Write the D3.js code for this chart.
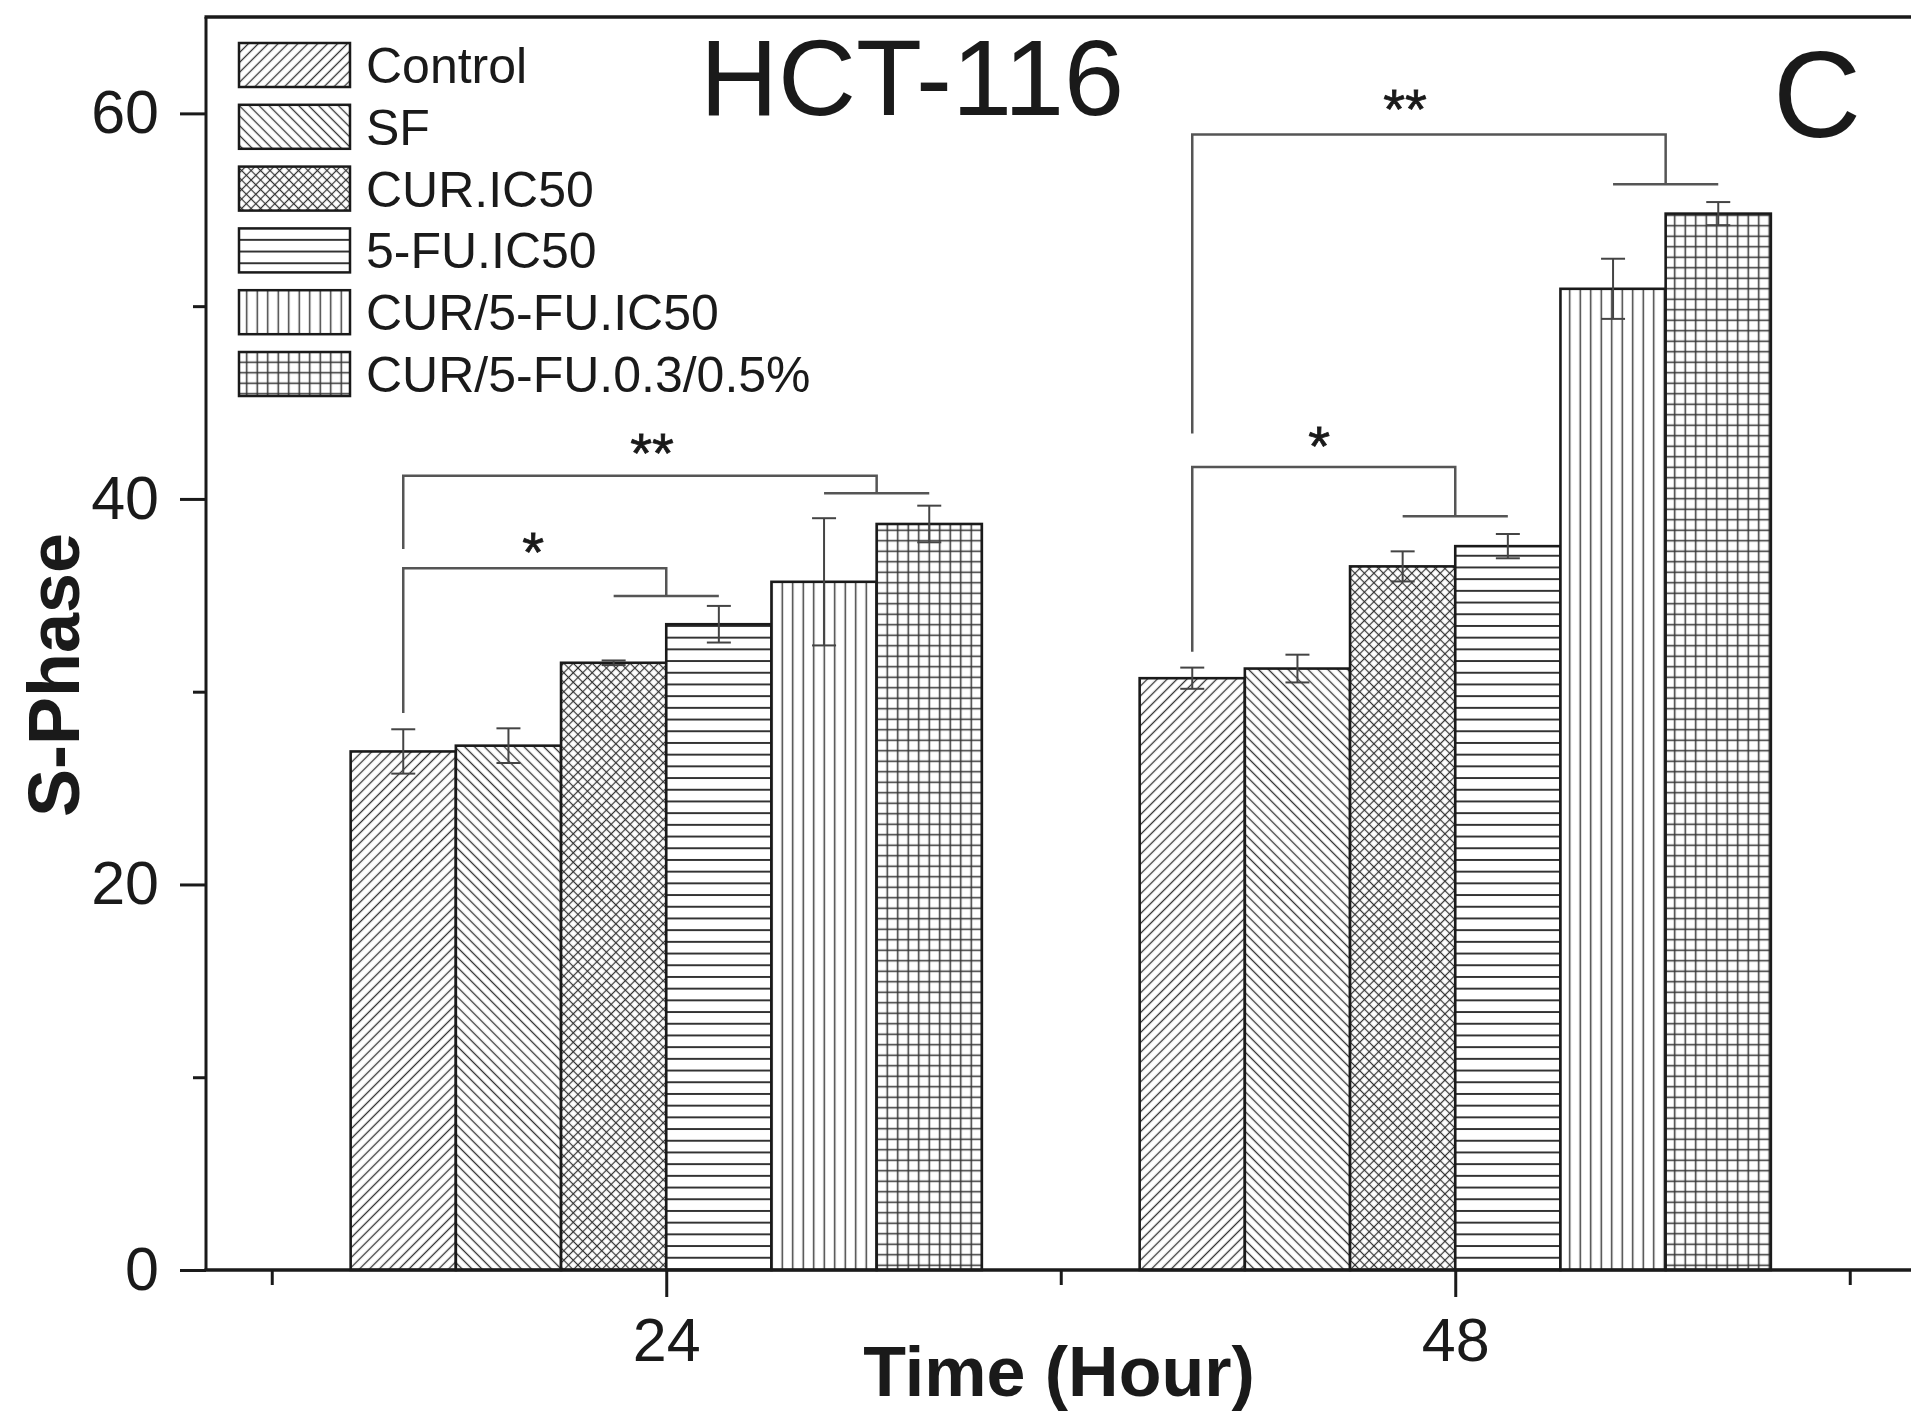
<!DOCTYPE html>
<html>
<head>
<meta charset="utf-8">
<script src="https://cdn.jsdelivr.net/npm/d3@7"></script>
<style>
  html, body { margin: 0; padding: 0; background: #fff; }
  svg { display: block; font-family: "Liberation Sans", Arial, sans-serif; }
</style>
</head>
<body>
<svg id="chart" width="1911" height="1411"></svg>
<script>
// ---------- data ----------
const categories = [24, 48];
const series = ["Control", "SF", "CUR.IC50", "5-FU.IC50", "CUR/5-FU.IC50", "CUR/5-FU.0.3/0.5%"];
const values24 = [26.9, 27.2, 31.5, 33.5, 35.7, 38.7];
const errors24 = [1.15, 0.9, 0.12, 0.95, 3.3, 0.95];
const values48 = [30.7, 31.2, 36.5, 37.55, 50.9, 54.8];
const errors48 = [0.55, 0.72, 0.78, 0.63, 1.56, 0.6];
const yTickValues = [0, 20, 40, 60];
const yMinorTickValues = [10, 30, 50];
const xTickValues = [24, 48];
const xMinorTickValues = [12, 36, 60];
const titleText = "HCT-116";
const panelLabel = "C";
const xTitle = "Time (Hour)";
const yTitle = "S-Phase";

// significance brackets
const bracketCategory = [24, 24, 48, 48];
const bracketLeft = [0, 0, 0, 0];
const bracketRightPairA = [4, 2, 4, 2];
const bracketRightPairB = [5, 3, 5, 3];
const bracketTop = [41.2, 36.4, 58.9, 41.66];
const bracketLeftBottom = [37.4, 28.9, 43.4, 32.07];
const bracketLower = [40.3, 34.97, 56.33, 39.1];
const bracketLabel = ["**", "*", "**", "*"];
const bracketLabelX = [23.57, 19.95, 46.47, 43.86];
const bracketLabelY = [43.0, 37.86, 60.84, 43.36];

// ---------- layout ----------
const svg = d3.select("#chart");
const x = d3.scaleLinear().domain([10, 62]).range([206, 206 + 52 * 32.875]);
const y = d3.scaleLinear().domain([0, 65]).range([1270, 17]);
const band = d3.scaleBand().domain(series).range([-9.6, 9.6]).paddingInner(0);

const ink = "#1a1a1a";
const hatch = "#333";

// ---------- patterns ----------
const defs = svg.append("defs");
function linePattern(id, w, h, rot, lines, sw) {
  const p = defs.append("pattern").attr("id", id)
    .attr("patternUnits", "userSpaceOnUse").attr("width", w).attr("height", h);
  if (rot) p.attr("patternTransform", `rotate(${rot})`);
  p.append("rect").attr("width", w).attr("height", h).attr("fill", "#fff");
  lines.forEach(l => p.append("line")
    .attr("x1", l[0]).attr("y1", l[1]).attr("x2", l[2]).attr("y2", l[3])
    .attr("stroke", hatch).attr("stroke-width", sw));
}
linePattern("p0", 7, 7, 45, [[3.5, -1, 3.5, 8]], 1.3);
linePattern("p1", 7, 7, -45, [[3.5, -1, 3.5, 8]], 1.3);
linePattern("p2", 6.7, 6.7, 45, [[3.35, -1, 3.35, 7.7], [-1, 3.35, 7.7, 3.35]], 1.2);
linePattern("p3", 11.7, 11.7, 0, [[-1, 5.85, 12.7, 5.85]], 2);
linePattern("p4", 10.5, 10.5, 0, [[5.25, -1, 5.25, 11.5]], 1.4);
linePattern("p5", 10.5, 10.5, 0, [[5.25, -1, 5.25, 11.5], [-1, 5.25, 11.5, 5.25]], 1.5);
const patternIds = ["p0", "p1", "p2", "p3", "p4", "p5"];

// ---------- bars ----------
const barData = [];
categories.forEach((c, ci) => {
  const vals = ci === 0 ? values24 : values48;
  const errs = ci === 0 ? errors24 : errors48;
  series.forEach((s, si) => barData.push({ c, s, si, v: vals[si], e: errs[si] }));
});
const barX0 = d => x(d.c + band(d.s));
const barX1 = d => x(d.c + band(d.s) + band.bandwidth());
const barCx = (c, si) => x(c + band(series[si]) + band.bandwidth() / 2);

svg.append("g").selectAll("rect").data(barData).join("rect")
  .attr("x", barX0).attr("y", d => y(d.v))
  .attr("width", d => barX1(d) - barX0(d))
  .attr("height", d => y(0) - y(d.v))
  .attr("fill", d => `url(#${patternIds[d.si]})`)
  .attr("stroke", ink).attr("stroke-width", 2.6);

// error bars
const eg = svg.append("g").attr("stroke", "#444").attr("stroke-width", 2);
barData.forEach(d => {
  const cx = barCx(d.c, d.si);
  eg.append("line").attr("x1", cx).attr("x2", cx).attr("y1", y(d.v + d.e)).attr("y2", y(d.v - d.e));
  eg.append("line").attr("x1", cx - 12).attr("x2", cx + 12).attr("y1", y(d.v + d.e)).attr("y2", y(d.v + d.e));
  eg.append("line").attr("x1", cx - 12).attr("x2", cx + 12).attr("y1", y(d.v - d.e)).attr("y2", y(d.v - d.e));
});

// ---------- brackets ----------
const bg = svg.append("g").attr("stroke", "#555").attr("stroke-width", 2.5).attr("fill", "none");
bracketCategory.forEach((c, i) => {
  const lx = barCx(c, bracketLeft[i]);
  const ax = barCx(c, bracketRightPairA[i]);
  const bx = barCx(c, bracketRightPairB[i]);
  const rx = (ax + bx) / 2;
  bg.append("path").attr("d",
    `M${lx},${y(bracketLeftBottom[i])}V${y(bracketTop[i])}H${rx}V${y(bracketLower[i])}`);
  bg.append("line").attr("x1", ax).attr("x2", bx)
    .attr("y1", y(bracketLower[i])).attr("y2", y(bracketLower[i]));
  svg.append("text").attr("x", x(bracketLabelX[i])).attr("y", y(bracketLabelY[i]) + 31)
    .attr("text-anchor", "middle").attr("font-size", 56).attr("fill", ink)
    .attr("stroke", ink).attr("stroke-width", 0.8)
    .text(bracketLabel[i]);
});

// ---------- axes ----------
const yAxis = svg.append("g").attr("transform", `translate(${x(10)},0)`)
  .call(d3.axisLeft(y).tickValues(yTickValues).tickSize(26).tickPadding(21)
    .tickSizeOuter(0).tickFormat(d3.format("d")));
const yMinor = svg.append("g").attr("transform", `translate(${x(10)},0)`)
  .call(d3.axisLeft(y).tickValues(yMinorTickValues).tickSize(13).tickSizeOuter(0).tickFormat(""));
const xAxis = svg.append("g").attr("transform", `translate(0,${y(0)})`)
  .call(d3.axisBottom(x).tickValues(xTickValues).tickSize(27).tickPadding(21)
    .tickSizeOuter(0).tickFormat(d3.format("d")));
const xMinor = svg.append("g").attr("transform", `translate(0,${y(0)})`)
  .call(d3.axisBottom(x).tickValues(xMinorTickValues).tickSize(15).tickSizeOuter(0).tickFormat(""));

[yAxis, yMinor, xAxis, xMinor].forEach(g => {
  g.selectAll(".domain").remove();
  g.selectAll(".tick line").attr("stroke", ink).attr("stroke-width", 3);
  g.selectAll(".tick text").attr("fill", ink).attr("font-size", 61)
    .attr("font-family", "'Liberation Sans', Arial, sans-serif");
});

// frame lines: left axis, bottom axis, top
svg.append("line").attr("x1", x(10)).attr("x2", x(10)).attr("y1", y(65)).attr("y2", y(0))
  .attr("stroke", ink).attr("stroke-width", 3);
svg.append("line").attr("x1", x(10) - 1.5).attr("x2", x(62)).attr("y1", y(0)).attr("y2", y(0))
  .attr("stroke", ink).attr("stroke-width", 3.5);
svg.append("line").attr("x1", x(10) - 1.5).attr("x2", x(62)).attr("y1", y(65)).attr("y2", y(65))
  .attr("stroke", ink).attr("stroke-width", 3.5);

// ---------- titles ----------
svg.append("text").attr("x", 700).attr("y", 115).attr("font-size", 108).attr("fill", ink)
  .text(titleText);
svg.append("text").attr("x", 1817).attr("y", 137).attr("text-anchor", "middle")
  .attr("font-size", 122).attr("fill", ink).text(panelLabel);
svg.append("text").attr("x", 1059).attr("y", 1396).attr("text-anchor", "middle")
  .attr("font-size", 70).attr("font-weight", "bold").attr("fill", ink).text(xTitle);
svg.append("text").attr("transform", "translate(79,675) rotate(-90)").attr("text-anchor", "middle")
  .attr("font-size", 72).attr("font-weight", "bold").attr("fill", ink).text(yTitle);

// ---------- legend ----------
const leg = svg.append("g");
series.forEach((s, i) => {
  const top = 43 + i * 61.8;
  leg.append("rect").attr("x", 239).attr("y", top).attr("width", 111).attr("height", 44)
    .attr("fill", `url(#${patternIds[i]})`).attr("stroke", ink).attr("stroke-width", 2.5);
  leg.append("text").attr("x", 366).attr("y", top + 22 + 18).attr("font-size", 50)
    .attr("fill", ink).text(s);
});
</script>
</body>
</html>
